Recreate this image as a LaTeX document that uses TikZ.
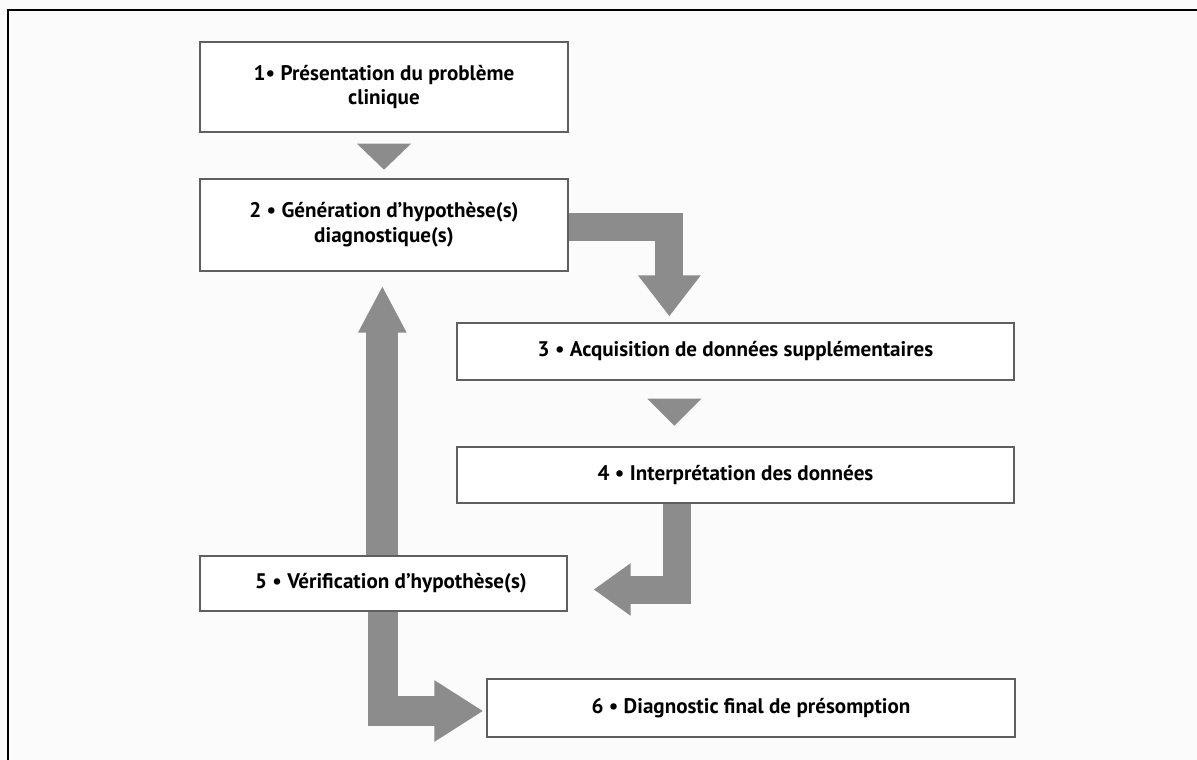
\documentclass[tikz,border=0pt]{standalone}
\usepackage{fontspec}
\setmainfont{PT Sans}
\usetikzlibrary{arrows.meta,calc,backgrounds}

\begin{document}
\begin{tikzpicture}[x=0.02cm, y=-0.02cm]

  % Define Colors
  \definecolor{paper}{RGB}{251,251,251}
  \definecolor{arrowgray}{RGB}{140,140,140}
  \definecolor{boxgray}{RGB}{95,95,95}

  % Node styles
  \tikzstyle{stepbox}=[rectangle, draw=boxgray, line width=0.8pt, fill=white, align=center, inner sep=0pt, font=\bfseries\fontsize{12}{14.2}\selectfont]

  \tikzstyle{bend_path}=[line width=0.56cm, arrowgray, line join=miter]
  \tikzstyle{back_path}=[line width=0.64cm, arrowgray]
  \tikzstyle{step_tip}=[arrowgray]

  \useasboundingbox (0,0) rectangle (1197,760);

  % Frame
  \draw[line width=1.2pt, black] (8,760) -- (8,10) -- (1197,10);

  % Nodes
  \node[stepbox, minimum width=7.36cm, minimum height=1.8cm] (b1) at (384,87) {1• Présentation du problème\\clinique};
  \node[stepbox, minimum width=7.36cm, minimum height=1.84cm] (b2) at (384,225) {2 • Génération d'hypothèse(s)\\diagnostique(s)};
  \node[stepbox, minimum width=11.14cm, minimum height=1.14cm] (b3) at (735.5,351.5) {3 • Acquisition de données supplémentaires};
  \node[stepbox, minimum width=11.14cm, minimum height=1.12cm] (b4) at (735.5,475) {4 • Interprétation des données};
  \node[stepbox, minimum width=7.34cm, minimum height=1.1cm] (b5) at (383.5,583.5) {5 • Vérification d'hypothèse(s)\hspace*{-0.3cm}};
  \node[stepbox, minimum width=10.56cm, minimum height=1.16cm] (b6) at (751,708) {6 • Diagnostic final de présomption};

  \begin{pgfonlayer}{background}
    \fill[paper] (0,0) rectangle (1197,760);

    % Step tips
    \fill[step_tip] ($(b1.south)+(-27,11)$) -- ++(54,0) -- ++(-27,26) -- cycle;
    \fill[step_tip] ($(b3.south west)+(191,18)$) -- ++(54,0) -- ++(-27,27) -- cycle;

    % Forward links
    \draw[bend_path, -{Triangle[width=1.2cm, length=0.82cm]}] ($(b2.east)+(0,2)$) -| ($(b3.north west)+(213,-6)$);
    \draw[bend_path, -{Triangle[width=1.0cm, length=0.74cm]}] ($(b4.south west)+(221,0)$) |- ($(b5.east)+(26,6)$);

    % Back links
    \draw[back_path, -{Triangle[width=0.9cm, length=0.94cm]}] ($(b5.north west)+(183,0)$) -- ($(b2.south west)+(183,14)$);
    \draw[bend_path, line width=0.6cm, -{Triangle[width=1.16cm, length=0.98cm]}] ($(b5.south west)+(184,0)$) |- ($(b6.west)+(-3,3)$);
  \end{pgfonlayer}

\end{tikzpicture}
\end{document}
